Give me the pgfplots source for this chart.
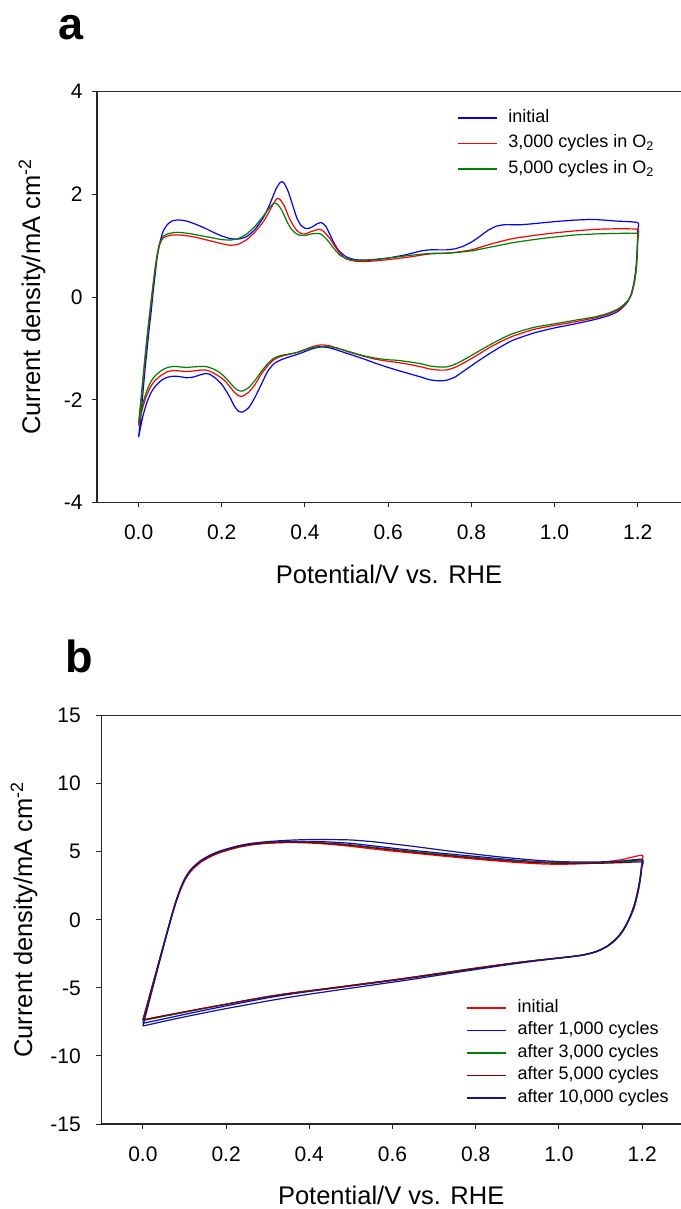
\documentclass[border=0pt]{standalone}
\usepackage{fontspec}
\setmainfont{Liberation Sans}
\usepackage{pgfplots}
\pgfplotsset{compat=1.18}
\definecolor{cblue}{RGB}{0,0,255}
\definecolor{cred}{RGB}{255,0,0}
\definecolor{cgreen}{RGB}{0,128,0}
\definecolor{cdred}{RGB}{128,0,0}
\definecolor{cnavy}{RGB}{20,20,140}
\pgfplotsset{
  cvaxis/.style={
    scale only axis,
    axis x line*=box,
    axis y line*=left,
    xtick pos=bottom, ytick pos=left,
    tick align=outside,
    major tick length=5bp,
    tick style={black!85, line width=1bp},
    axis line style={black!85, line width=1.2bp},
    xmin=-0.1,
    xtick={0,0.2,0.4,0.6,0.8,1.0,1.2},
    xticklabels={0.0,0.2,0.4,0.6,0.8,1.0,1.2},
    tick label style={font=\fontsize{21bp}{25bp}\selectfont},
    xticklabel style={yshift=-14bp},
    label style={font=\fontsize{25.5bp}{30bp}\selectfont},
    xlabel={Potential/V vs. RHE},
    xlabel style={at={(axis description cs:0.5,-0.196)}, anchor=base},
    ylabel={Current density/mA cm\textsuperscript{-2}},
    legend cell align=left,
    legend style={draw=none, fill=none, inner sep=0pt, anchor=north west,
      font=\fontsize{18bp}{21bp}\selectfont, column sep=11bp,
      nodes={inner sep=0pt, text height=13bp, text depth=4.5bp}},
    legend image code/.code={\draw[##1, line width=1.4bp] (0bp,0bp) -- (39bp,0bp);},
    every axis plot/.append style={line width=1.2bp, smooth, tension=0.35},
  }
}
\begin{document}
\begin{tikzpicture}
\useasboundingbox (0,0) rectangle (681bp,1209bp);
\node[anchor=base west, inner sep=0pt, font=\fontsize{45bp}{50bp}\selectfont\bfseries] at (58bp,1169bp) {a};
\node[anchor=base west, inner sep=0pt, font=\fontsize{45bp}{50bp}\selectfont\bfseries] at (65bp,536bp) {b};
% ---------------- panel a ----------------
\begin{axis}[cvaxis,
  at={(97bp,706.5bp)}, anchor=south west,
  width=584bp, height=410.8bp,
  xmax=1.304, ymin=-4, ymax=4,
  ytick={-4,-2,0,2,4}, yticklabels={-4,-2,0,2,4},
  yticklabel style={xshift=-6bp},
  ylabel style={at={(axis description cs:-0.0976,0.5)}, anchor=base},
  legend style={at={(rel axis cs:0.616,0.958)}, row sep=8bp},
]
\addplot[cblue] coordinates {
(0.000,-2.73)(0.005,-2.35)(0.010,-1.90)(0.015,-1.45)(0.020,-1.05)(0.025,-0.65)(0.030,-0.30)(0.035,0.10)(0.040,0.45)(0.045,0.80)(0.050,1.02)(0.055,1.18)(0.060,1.30)(0.070,1.42)(0.080,1.48)(0.090,1.50)(0.100,1.50)(0.110,1.49)(0.120,1.47)(0.140,1.41)(0.160,1.34)(0.180,1.26)(0.200,1.19)(0.220,1.14)(0.240,1.13)(0.260,1.18)(0.280,1.32)(0.300,1.55)(0.315,1.80)(0.330,2.10)(0.340,2.23)(0.345,2.25)(0.350,2.22)(0.360,2.05)(0.370,1.80)(0.380,1.55)(0.390,1.40)(0.400,1.34)(0.410,1.34)(0.420,1.38)(0.430,1.43)(0.440,1.45)(0.450,1.38)(0.460,1.22)(0.470,1.05)(0.480,0.92)(0.490,0.84)(0.500,0.78)(0.520,0.73)(0.540,0.72)(0.560,0.72)(0.580,0.74)(0.600,0.76)(0.620,0.79)(0.640,0.82)(0.660,0.86)(0.680,0.90)(0.700,0.92)(0.720,0.92)(0.740,0.92)(0.760,0.94)(0.780,0.99)(0.800,1.07)(0.820,1.18)(0.840,1.30)(0.860,1.38)(0.880,1.41)(0.900,1.41)(0.920,1.41)(0.950,1.43)(1.000,1.47)(1.050,1.50)(1.080,1.51)(1.100,1.51)(1.150,1.48)(1.200,1.45)
(1.200,1.30)(1.199,1.00)(1.197,0.70)(1.194,0.45)(1.190,0.25)(1.185,0.08)(1.178,-0.06)(1.170,-0.15)(1.160,-0.23)(1.150,-0.29)(1.130,-0.36)(1.100,-0.43)(1.050,-0.52)(1.000,-0.60)(0.950,-0.70)(0.900,-0.84)(0.870,-0.97)(0.840,-1.12)(0.810,-1.28)(0.780,-1.45)(0.760,-1.56)(0.740,-1.62)(0.720,-1.63)(0.700,-1.61)(0.680,-1.56)(0.650,-1.49)(0.620,-1.42)(0.600,-1.37)(0.570,-1.29)(0.540,-1.20)(0.510,-1.12)(0.480,-1.04)(0.460,-0.99)(0.440,-0.97)(0.420,-1.00)(0.400,-1.06)(0.380,-1.12)(0.360,-1.17)(0.340,-1.23)(0.325,-1.30)(0.310,-1.45)(0.295,-1.70)(0.280,-1.95)(0.265,-2.15)(0.250,-2.24)(0.240,-2.22)(0.230,-2.12)(0.220,-1.96)(0.210,-1.82)(0.200,-1.70)(0.185,-1.58)(0.170,-1.50)(0.160,-1.49)(0.150,-1.51)(0.130,-1.56)(0.115,-1.57)(0.100,-1.55)(0.085,-1.54)(0.070,-1.56)(0.055,-1.62)(0.040,-1.74)(0.030,-1.86)(0.020,-2.05)(0.010,-2.33)(0.000,-2.73)
};
\addlegendentry{initial}
\addplot[cred] coordinates {
(0.000,-2.50)(0.005,-2.10)(0.010,-1.68)(0.015,-1.25)(0.020,-0.85)(0.025,-0.48)(0.030,-0.12)(0.035,0.22)(0.040,0.55)(0.045,0.82)(0.050,1.00)(0.055,1.10)(0.060,1.16)(0.070,1.19)(0.080,1.21)(0.090,1.21)(0.100,1.21)(0.120,1.19)(0.140,1.16)(0.160,1.12)(0.180,1.08)(0.200,1.04)(0.220,1.01)(0.240,1.03)(0.260,1.12)(0.280,1.27)(0.300,1.47)(0.315,1.68)(0.325,1.83)(0.333,1.92)(0.340,1.90)(0.350,1.78)(0.360,1.58)(0.370,1.42)(0.380,1.30)(0.390,1.24)(0.400,1.23)(0.410,1.26)(0.420,1.29)(0.435,1.32)(0.445,1.28)(0.460,1.14)(0.475,0.95)(0.490,0.80)(0.500,0.74)(0.520,0.70)(0.540,0.69)(0.560,0.70)(0.600,0.73)(0.650,0.78)(0.700,0.84)(0.750,0.86)(0.800,0.92)(0.850,1.04)(0.900,1.14)(0.950,1.20)(1.000,1.25)(1.050,1.29)(1.100,1.32)(1.150,1.33)(1.200,1.32)
(1.200,1.20)(1.199,0.90)(1.197,0.62)(1.194,0.40)(1.190,0.22)(1.185,0.06)(1.178,-0.05)(1.170,-0.13)(1.160,-0.21)(1.150,-0.26)(1.130,-0.33)(1.100,-0.40)(1.050,-0.48)(1.000,-0.55)(0.950,-0.63)(0.900,-0.76)(0.870,-0.87)(0.840,-1.00)(0.810,-1.15)(0.780,-1.29)(0.760,-1.37)(0.740,-1.42)(0.720,-1.42)(0.700,-1.40)(0.680,-1.36)(0.650,-1.31)(0.620,-1.27)(0.600,-1.25)(0.570,-1.21)(0.540,-1.15)(0.510,-1.08)(0.480,-1.00)(0.460,-0.95)(0.440,-0.93)(0.420,-0.96)(0.400,-1.02)(0.380,-1.08)(0.360,-1.12)(0.340,-1.16)(0.325,-1.22)(0.310,-1.34)(0.295,-1.50)(0.280,-1.70)(0.265,-1.85)(0.250,-1.93)(0.240,-1.92)(0.230,-1.85)(0.220,-1.75)(0.210,-1.65)(0.200,-1.58)(0.185,-1.50)(0.170,-1.44)(0.160,-1.42)(0.150,-1.42)(0.130,-1.44)(0.115,-1.45)(0.100,-1.44)(0.085,-1.43)(0.070,-1.45)(0.055,-1.52)(0.040,-1.62)(0.030,-1.73)(0.020,-1.90)(0.010,-2.15)(0.000,-2.50)
};
\addlegendentry{3,000 cycles in O\textsubscript{2}}
\addplot[cgreen] coordinates {
(0.000,-2.45)(0.005,-2.05)(0.010,-1.62)(0.015,-1.20)(0.020,-0.80)(0.025,-0.43)(0.030,-0.08)(0.035,0.26)(0.040,0.58)(0.045,0.85)(0.050,1.03)(0.055,1.13)(0.060,1.19)(0.070,1.23)(0.080,1.25)(0.090,1.26)(0.100,1.26)(0.120,1.24)(0.140,1.21)(0.160,1.18)(0.180,1.15)(0.200,1.12)(0.220,1.11)(0.240,1.14)(0.260,1.23)(0.280,1.38)(0.300,1.58)(0.312,1.71)(0.320,1.79)(0.327,1.83)(0.335,1.80)(0.345,1.68)(0.355,1.50)(0.365,1.35)(0.375,1.26)(0.385,1.21)(0.400,1.20)(0.415,1.23)(0.430,1.24)(0.440,1.22)(0.455,1.10)(0.470,0.94)(0.485,0.81)(0.500,0.75)(0.520,0.72)(0.540,0.72)(0.560,0.73)(0.600,0.76)(0.650,0.81)(0.700,0.85)(0.750,0.86)(0.800,0.90)(0.850,0.98)(0.900,1.06)(0.950,1.12)(1.000,1.17)(1.050,1.21)(1.100,1.23)(1.150,1.24)(1.200,1.24)
(1.200,1.12)(1.199,0.85)(1.197,0.58)(1.194,0.37)(1.190,0.20)(1.185,0.05)(1.178,-0.05)(1.170,-0.12)(1.160,-0.19)(1.150,-0.24)(1.130,-0.31)(1.100,-0.38)(1.050,-0.45)(1.000,-0.52)(0.950,-0.59)(0.900,-0.71)(0.870,-0.82)(0.840,-0.95)(0.810,-1.09)(0.780,-1.23)(0.760,-1.31)(0.740,-1.36)(0.720,-1.36)(0.700,-1.34)(0.680,-1.30)(0.650,-1.26)(0.620,-1.23)(0.600,-1.22)(0.570,-1.19)(0.540,-1.14)(0.510,-1.07)(0.480,-1.00)(0.460,-0.97)(0.440,-0.96)(0.420,-0.98)(0.400,-1.03)(0.380,-1.08)(0.360,-1.11)(0.340,-1.14)(0.325,-1.19)(0.310,-1.30)(0.295,-1.45)(0.280,-1.62)(0.265,-1.76)(0.250,-1.83)(0.240,-1.82)(0.230,-1.76)(0.220,-1.67)(0.210,-1.58)(0.200,-1.50)(0.185,-1.42)(0.170,-1.37)(0.160,-1.35)(0.150,-1.35)(0.130,-1.36)(0.115,-1.37)(0.100,-1.36)(0.085,-1.35)(0.070,-1.37)(0.055,-1.43)(0.040,-1.53)(0.030,-1.64)(0.020,-1.82)(0.010,-2.08)(0.000,-2.45)
};
\addlegendentry{5,000 cycles in O\textsubscript{2}}
\end{axis}
% ---------------- panel b ----------------
\begin{axis}[cvaxis,
  at={(101.3bp,85bp)}, anchor=south west,
  width=579.7bp, height=408.3bp,
  xmax=1.2935, ymin=-15, ymax=15,
  ytick={-15,-10,-5,0,5,10,15}, yticklabels={-15,-10,-5,0,5,10,15},
  yticklabel style={xshift=-12bp},
  ylabel style={at={(axis description cs:-0.1195,0.5)}, anchor=base},
  legend style={at={(rel axis cs:0.629,0.306)}, row sep=5bp},
]
\addplot[cred] coordinates {
(0.000,-7.35)(0.010,-6.30)(0.020,-5.20)(0.030,-4.10)(0.040,-3.00)(0.050,-1.90)(0.060,-0.80)(0.070,0.30)(0.080,1.30)(0.090,2.15)(0.100,2.85)(0.110,3.35)(0.120,3.72)(0.140,4.25)(0.160,4.60)(0.180,4.88)(0.200,5.08)(0.230,5.33)(0.260,5.50)(0.300,5.63)(0.350,5.68)(0.400,5.65)(0.450,5.55)(0.500,5.40)(0.550,5.22)(0.600,5.05)(0.650,4.90)(0.700,4.75)(0.750,4.60)(0.800,4.46)(0.850,4.33)(0.900,4.21)(0.950,4.12)(1.000,4.08)(1.050,4.12)(1.100,4.22)(1.150,4.42)(1.200,4.75)
(1.199,4.20)(1.197,3.50)(1.193,2.60)(1.187,1.70)(1.180,0.90)(1.170,0.15)(1.160,-0.45)(1.150,-0.95)(1.135,-1.45)(1.115,-1.95)(1.090,-2.32)(1.060,-2.56)(1.030,-2.70)(1.000,-2.80)(0.950,-2.97)(0.900,-3.15)(0.850,-3.35)(0.800,-3.56)(0.750,-3.78)(0.700,-4.00)(0.650,-4.22)(0.600,-4.43)(0.550,-4.63)(0.500,-4.83)(0.450,-5.03)(0.400,-5.22)(0.350,-5.42)(0.300,-5.65)(0.250,-5.92)(0.200,-6.20)(0.150,-6.48)(0.100,-6.76)(0.050,-7.05)(0.000,-7.35)
};
\addlegendentry{initial}
\addplot[cblue] coordinates {
(0.000,-7.60)(0.010,-6.45)(0.020,-5.30)(0.030,-4.15)(0.040,-3.00)(0.050,-1.85)(0.060,-0.72)(0.070,0.40)(0.080,1.42)(0.090,2.28)(0.100,2.98)(0.110,3.48)(0.120,3.85)(0.140,4.36)(0.160,4.70)(0.180,4.96)(0.200,5.16)(0.230,5.40)(0.260,5.57)(0.300,5.69)(0.350,5.76)(0.400,5.76)(0.450,5.72)(0.500,5.62)(0.550,5.45)(0.600,5.27)(0.650,5.10)(0.700,4.95)(0.750,4.80)(0.800,4.66)(0.850,4.52)(0.900,4.38)(0.950,4.27)(1.000,4.20)(1.050,4.18)(1.100,4.20)(1.150,4.27)(1.200,4.40)
(1.199,3.90)(1.196,3.20)(1.191,2.30)(1.184,1.40)(1.175,0.55)(1.165,-0.15)(1.154,-0.75)(1.140,-1.30)(1.120,-1.85)(1.095,-2.28)(1.065,-2.55)(1.030,-2.70)(1.000,-2.80)(0.950,-2.97)(0.900,-3.16)(0.850,-3.37)(0.800,-3.59)(0.750,-3.81)(0.700,-4.03)(0.650,-4.25)(0.600,-4.46)(0.550,-4.66)(0.500,-4.86)(0.450,-5.06)(0.400,-5.26)(0.350,-5.48)(0.300,-5.73)(0.250,-6.02)(0.200,-6.32)(0.150,-6.63)(0.100,-6.95)(0.050,-7.28)(0.000,-7.60)
};
\addlegendentry{after 1,000 cycles}
\addplot[cgreen] coordinates {
(0.000,-7.40)(0.010,-6.28)(0.020,-5.16)(0.030,-4.04)(0.040,-2.92)(0.050,-1.80)(0.060,-0.70)(0.070,0.40)(0.080,1.40)(0.090,2.25)(0.100,2.94)(0.110,3.44)(0.120,3.81)(0.140,4.32)(0.160,4.66)(0.180,4.92)(0.200,5.12)(0.230,5.37)(0.260,5.54)(0.300,5.66)(0.350,5.71)(0.400,5.70)(0.450,5.64)(0.500,5.52)(0.550,5.35)(0.600,5.18)(0.650,5.02)(0.700,4.87)(0.750,4.72)(0.800,4.58)(0.850,4.45)(0.900,4.33)(0.950,4.24)(1.000,4.19)(1.050,4.17)(1.100,4.19)(1.150,4.24)(1.200,4.32)
(1.199,3.90)(1.197,3.30)(1.193,2.50)(1.187,1.65)(1.180,0.85)(1.170,0.12)(1.160,-0.48)(1.150,-0.97)(1.135,-1.47)(1.115,-1.96)(1.090,-2.33)(1.060,-2.57)(1.030,-2.70)(1.000,-2.80)(0.950,-2.96)(0.900,-3.14)(0.850,-3.34)(0.800,-3.55)(0.750,-3.77)(0.700,-3.99)(0.650,-4.21)(0.600,-4.42)(0.550,-4.62)(0.500,-4.82)(0.450,-5.02)(0.400,-5.21)(0.350,-5.41)(0.300,-5.64)(0.250,-5.92)(0.200,-6.21)(0.150,-6.50)(0.100,-6.80)(0.050,-7.10)(0.000,-7.40)
};
\addlegendentry{after 3,000 cycles}
\addplot[cdred] coordinates {
(0.000,-7.35)(0.010,-6.24)(0.020,-5.13)(0.030,-4.02)(0.040,-2.91)(0.050,-1.80)(0.060,-0.70)(0.070,0.40)(0.080,1.40)(0.090,2.25)(0.100,2.94)(0.110,3.44)(0.120,3.81)(0.140,4.32)(0.160,4.66)(0.180,4.92)(0.200,5.12)(0.230,5.37)(0.260,5.53)(0.300,5.65)(0.350,5.70)(0.400,5.68)(0.450,5.60)(0.500,5.47)(0.550,5.30)(0.600,5.13)(0.650,4.97)(0.700,4.82)(0.750,4.67)(0.800,4.53)(0.850,4.40)(0.900,4.29)(0.950,4.20)(1.000,4.15)(1.050,4.14)(1.100,4.16)(1.150,4.20)(1.200,4.25)
(1.199,3.85)(1.197,3.25)(1.193,2.45)(1.187,1.60)(1.180,0.82)(1.170,0.10)(1.160,-0.50)(1.150,-0.99)(1.135,-1.49)(1.115,-1.97)(1.090,-2.34)(1.060,-2.58)(1.030,-2.71)(1.000,-2.80)(0.950,-2.96)(0.900,-3.14)(0.850,-3.34)(0.800,-3.55)(0.750,-3.77)(0.700,-3.99)(0.650,-4.21)(0.600,-4.42)(0.550,-4.62)(0.500,-4.82)(0.450,-5.02)(0.400,-5.21)(0.350,-5.41)(0.300,-5.64)(0.250,-5.91)(0.200,-6.19)(0.150,-6.47)(0.100,-6.76)(0.050,-7.05)(0.000,-7.35)
};
\addlegendentry{after 5,000 cycles}
\addplot[cnavy] coordinates {
(0.000,-7.80)(0.010,-6.62)(0.020,-5.44)(0.030,-4.26)(0.040,-3.08)(0.050,-1.90)(0.060,-0.75)(0.070,0.38)(0.080,1.40)(0.090,2.27)(0.100,2.97)(0.110,3.48)(0.120,3.86)(0.140,4.38)(0.160,4.73)(0.180,5.00)(0.200,5.20)(0.230,5.45)(0.260,5.62)(0.300,5.75)(0.350,5.85)(0.400,5.90)(0.450,5.90)(0.500,5.87)(0.550,5.75)(0.600,5.58)(0.650,5.40)(0.700,5.20)(0.750,5.00)(0.800,4.82)(0.850,4.65)(0.900,4.50)(0.950,4.37)(1.000,4.28)(1.050,4.25)(1.100,4.26)(1.150,4.32)(1.200,4.45)
(1.199,3.90)(1.196,3.20)(1.191,2.35)(1.185,1.50)(1.177,0.70)(1.168,0.00)(1.158,-0.60)(1.146,-1.15)(1.130,-1.65)(1.110,-2.05)(1.085,-2.38)(1.055,-2.60)(1.025,-2.72)(1.000,-2.82)(0.950,-3.00)(0.900,-3.20)(0.850,-3.42)(0.800,-3.65)(0.750,-3.88)(0.700,-4.12)(0.650,-4.36)(0.600,-4.58)(0.550,-4.80)(0.500,-5.02)(0.450,-5.24)(0.400,-5.46)(0.350,-5.70)(0.300,-5.96)(0.250,-6.24)(0.200,-6.52)(0.150,-6.82)(0.100,-7.13)(0.050,-7.46)(0.000,-7.80)
};
\addlegendentry{after 10,000 cycles}
\end{axis}
\end{tikzpicture}
\end{document}
